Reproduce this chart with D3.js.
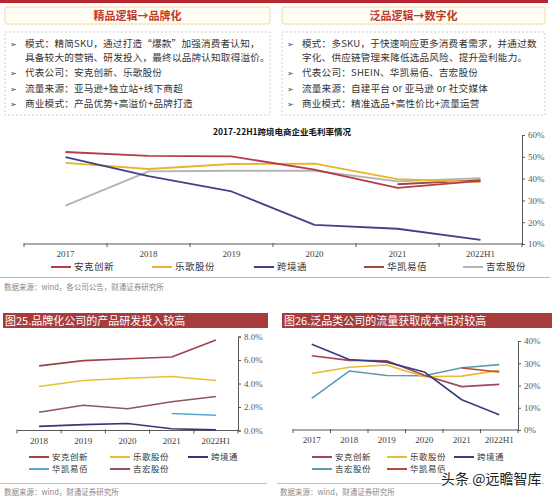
<!DOCTYPE html>
<html><head><meta charset="utf-8">
<script src="https://cdn.jsdelivr.net/npm/d3@7"></script>
<style>body{margin:0;background:#fff}svg{display:block}</style>
</head><body><svg id="c" width="554" height="500"></svg>
<script>
// ---------- data ----------
const companyNames = ["安克创新","乐歌股份","跨境通","华凯易佰","吉宏股份"];

const gmCats = ["2017","2018","2019","2020","2021","2022H1"];
const gmAnker  = [52.2, 50.4, 50.2, 44.1, 35.7, 39.0];
const gmLoctek = [47.2, 44.4, 46.7, 46.9, 39.8, 38.4];
const gmKjt    = [49.9, 41.1, 34.1, 18.8, 17.0, 11.9];
const gmHuakai = [null, null, null, null, 37.4, 39.3];
const gmJihong = [27.6, 43.3, 43.6, 43.6, 38.7, 40.2];
const gmTicks  = [10, 20, 30, 40, 50, 60];

const rdCats = ["2018","2019","2020","2021","2022H1"];
const rdAnker  = [5.5, 5.95, 6.1, 6.25, 7.7];
const rdLoctek = [3.75, 4.25, 4.45, 4.6, 4.25];
const rdKjt    = [0.35, 0.5, 0.6, 0.15, 0.05];
const rdHuakai = [null, null, null, 1.45, 1.3];
const rdJihong = [1.55, 2.15, 1.85, 2.45, 2.9];
const rdTicks  = [0, 2, 4, 6, 8];

const tcCats = ["2017","2018","2019","2020","2021","2022H1"];
const tcAnker  = [33.4, 31.3, 31.1, 24.6, 19.5, 20.5];
const tcLoctek = [25.4, 28.2, 29.2, 23.9, 24.2, 26.8];
const tcKjt    = [38.5, 31.7, 30.5, 26.1, 13.6, 6.9];
const tcJihong = [14.2, 26.5, 24.5, 24.4, 28.0, 29.4];
const tcHuakai = [null, null, null, null, 27.9, 26.1];
const tcTicks  = [0, 10, 20, 30, 40];

const leftHeader = "精品逻辑→品牌化";
const rightHeader = "泛品逻辑→数字化";
const leftLines = [
  ["➢","模式：精简SKU，通过打造“爆款”加强消费者认知，"],
  ["","具备较大的营销、研发投入，最终以品牌认知取得溢价。"],
  ["➢","代表公司：安克创新、乐歌股份"],
  ["➢","流量来源：亚马逊+独立站+线下商超"],
  ["➢","商业模式：产品优势+高溢价+品牌打造"]
];
const rightLines = [
  ["➢","模式：多SKU，于快速响应更多消费者需求，并通过数"],
  ["","字化、供应链管理来降低选品风险、提升盈利能力。"],
  ["➢","代表公司：SHEIN、华凯易佰、吉宏股份"],
  ["➢","流量来源：自建平台 or 亚马逊 or 社交媒体"],
  ["➢","商业模式：精准选品+高性价比+流量运营"]
];

// ---------- drawing ----------
const svg = d3.select("#c");
const CJK = "'Noto Sans CJK SC', sans-serif";
const SERIF = "'Liberation Serif', 'DejaVu Serif', serif";

// top red bar
svg.append("rect").attr("x",0).attr("y",0).attr("width",548).attr("height",3).attr("fill","#b8282e");

function panel(x0, x1, header, lines) {
  svg.append("rect").attr("x",x0).attr("y",7).attr("width",x1-x0).attr("height",17)
    .attr("fill","#fffdf4").attr("stroke","#f0dca0").attr("stroke-width",1).attr("rx",2);
  svg.append("text").attr("x",(x0+x1)/2).attr("y",20).attr("text-anchor","middle")
    .attr("font-family",CJK).attr("font-size",11).attr("font-weight","bold").attr("fill","#c0392b").text(header);
  svg.append("rect").attr("x",x0).attr("y",32).attr("width",x1-x0).attr("height",83)
    .attr("fill","none").attr("stroke","#cfcfcf").attr("stroke-dasharray","2,2").attr("stroke-width",1);
  const ys = [47, 61, 76, 92, 107];
  lines.forEach((l,i)=>{
    if (l[0]) svg.append("text").attr("x",x0+5).attr("y",ys[i]).attr("font-family","'DejaVu Sans',sans-serif")
      .attr("font-size",8).attr("fill","#444").text(l[0]);
    svg.append("text").attr("x",x0+20).attr("y",ys[i]).attr("font-family",CJK)
      .attr("font-size",9.6).attr("letter-spacing",0.2).attr("fill","#333").text(l[1]);
  });
}
panel(5, 270, leftHeader, leftLines);
panel(282, 545, rightHeader, rightLines);

function lineChart(o) {
  const x = d3.scaleBand().domain(o.cats).range([o.x0, o.x1]);
  const y = d3.scaleLinear().domain(o.domain).range([o.yBot, o.yTop]);
  const g = svg.append("g");
  // x axis
  g.append("line").attr("x1",o.x0).attr("x2",o.x1).attr("y1",o.yBot).attr("y2",o.yBot).attr("stroke","#595959");
  o.cats.concat([null]).forEach((c,i)=>{
    const xx = c===null ? o.x1 : x(c);
    g.append("line").attr("x1",xx).attr("x2",xx).attr("y1",o.yBot-1).attr("y2",o.yBot+3).attr("stroke","#595959");
  });
  o.cats.forEach(c=>{
    g.append("text").attr("x",x(c)+x.bandwidth()/2).attr("y",o.yBot+13).attr("text-anchor","middle")
      .attr("font-family",SERIF).attr("font-size",9).attr("fill","#404040").text(c);
  });
  // right axis
  const ax = g.append("g").attr("transform",`translate(${o.x1},0)`)
    .call(d3.axisRight(y).tickValues(o.ticks).tickSize(3).tickPadding(3).tickFormat(o.fmt));
  ax.select(".domain").attr("stroke","#595959");
  ax.selectAll(".tick line").attr("stroke","#595959");
  ax.selectAll("text").attr("font-family",SERIF).attr("font-size",9).attr("fill","#595959");
  // lines
  const gen = d3.line().defined(d=>d!=null)
    .x((d,i)=>x(o.cats[i])+x.bandwidth()/2).y(d=>y(d));
  o.series.forEach(s=>{
    g.append("path").attr("d",gen(s.values)).attr("fill","none").attr("stroke",s.color)
      .attr("stroke-width",o.sw).attr("stroke-linejoin","round");
  });
  // legend
  o.legend.forEach(l=>{
    g.append("line").attr("x1",l.x).attr("x2",l.x+20).attr("y1",l.y).attr("y2",l.y)
      .attr("stroke",l.color).attr("stroke-width",2);
    g.append("text").attr("x",l.x+23).attr("y",l.y+3.2).attr("font-family",CJK).attr("font-size",o.lfs)
      .attr("letter-spacing",0.5).attr("fill","#333").text(l.name);
  });
}

// top chart
svg.append("text").attr("x",282).attr("y",135).attr("text-anchor","middle").attr("font-family",CJK)
  .attr("font-size",8.5).attr("font-weight","bold").attr("fill","#111").text("2017-22H1跨境电商企业毛利率情况");
const gmColors = ["#b43c4a","#e8b52a","#3f4489","#9b4a3e","#b3b3b3"];
const gmSeries = [gmAnker, gmLoctek, gmKjt, gmHuakai, gmJihong];
lineChart({
  x0:24, x1:522, yTop:135, yBot:244, domain:[10,60], ticks:gmTicks, fmt:d=>d+"%",
  cats:gmCats, sw:1.8, lfs:9.5,
  series:[4,3,1,0,2].map(i=>({values:gmSeries[i], color:gmColors[i]})),
  legend:[51,152,254,364,463].map((xx,i)=>({x:xx, y:267, color:gmColors[i], name:companyNames[i]}))
});
svg.append("line").attr("x1",0).attr("x2",550).attr("y1",277.5).attr("y2",277.5).attr("stroke","#e4a5a5");
svg.append("text").attr("x",4).attr("y",290).attr("font-family",CJK).attr("font-size",7.5).attr("fill","#888")
  .text("数据来源：wind，各公司公告，财通证券研究所");

// bottom headers
function header(x0,x1,t){
  svg.append("rect").attr("x",x0).attr("y",313).attr("width",x1-x0).attr("height",15).attr("fill","#a63c3c");
  svg.append("text").attr("x",x0+2).attr("y",325).attr("font-family",CJK).attr("font-size",11)
    .attr("fill","#fff").text(t);
}
header(3,268,"图25.品牌化公司的产品研发投入较高");
header(282,552,"图26.泛品类公司的流量获取成本相对较高");

// bottom-left chart
const rdColors = ["#a0414b","#e6c02f","#34387a","#5ba8cf","#8e5566"];
const rdSeries = [rdAnker, rdLoctek, rdKjt, rdHuakai, rdJihong];
lineChart({
  x0:17, x1:238, yTop:336.5, yBot:430.5, domain:[0,8], ticks:rdTicks, fmt:d=>d.toFixed(1)+"%",
  cats:rdCats, sw:1.6, lfs:8.5,
  series:[0,1,2,3,4].map(i=>({values:rdSeries[i], color:rdColors[i]})),
  legend:[{x:29,y:457,i:0},{x:110,y:457,i:1},{x:188,y:457,i:2},{x:29,y:469,i:3},{x:110,y:469,i:4}]
    .map(l=>({x:l.x, y:l.y, color:rdColors[l.i], name:companyNames[l.i]}))
});
svg.append("line").attr("x1",0).attr("x2",267).attr("y1",483.5).attr("y2",483.5).attr("stroke","#d8b4b4");
svg.append("text").attr("x",4).attr("y",495).attr("font-family",CJK).attr("font-size",7.5).attr("fill","#888")
  .text("数据来源：wind，财通证券研究所");

// bottom-right chart
const tcColors = ["#a34558","#e8bb33","#3b3d7a","#b54b3f","#5d9bb5"];
const tcSeries = [tcAnker, tcLoctek, tcKjt, tcHuakai, tcJihong];
lineChart({
  x0:293, x1:518, yTop:341, yBot:430, domain:[0,40], ticks:tcTicks, fmt:d=>d+"%",
  cats:tcCats, sw:1.6, lfs:8.5,
  series:[4,1,3,0,2].map(i=>({values:tcSeries[i], color:tcColors[i]})),
  legend:[{x:312,y:457,i:0},{x:387,y:457,i:1},{x:454,y:457,i:2},{x:312,y:469,i:4},{x:387,y:469,i:3}]
    .map(l=>({x:l.x, y:l.y, color:tcColors[l.i], name:companyNames[l.i]}))
});
svg.append("line").attr("x1",277).attr("x2",544).attr("y1",483.5).attr("y2",483.5).attr("stroke","#d8b4b4");
svg.append("text").attr("x",280).attr("y",495).attr("font-family",CJK).attr("font-size",7.5).attr("fill","#888")
  .text("数据来源：wind，财通证券研究所");

// watermark
svg.append("text").attr("x",441).attr("y",484).attr("font-family",CJK).attr("font-size",14)
  .attr("fill","#222").attr("stroke","#fff").attr("stroke-width",2.5).attr("paint-order","stroke")
  .text("头条 @远瞻智库");
</script></body></html>
